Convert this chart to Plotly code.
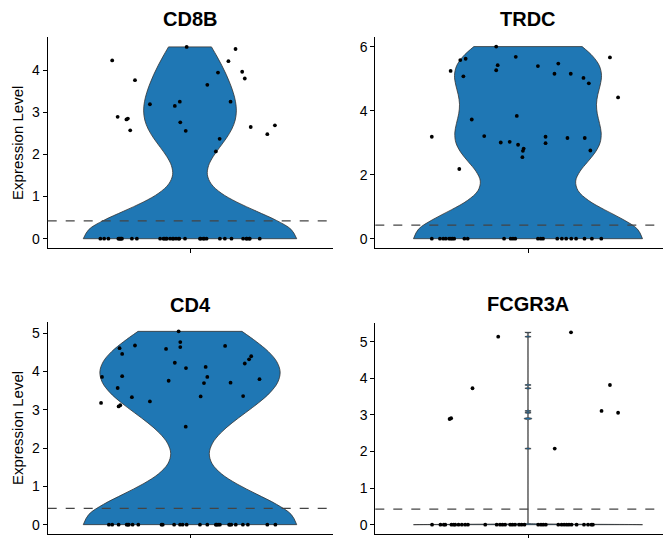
import numpy as np
import plotly.graph_objects as go

genes = ["CD8B", "TRDC", "CD4", "FCGR3A"]
threshold = 0.425

# ---- CD8B ----
cd8b_pos_y = [4.23, 4.55, 4.50, 4.21, 3.94, 3.96, 3.80, 3.76, 3.65, 3.19, 3.15, 3.25,
              3.25, 2.89, 2.83, 2.85, 2.57, 2.76, 2.56, 2.65, 2.69, 2.48, 2.37, 2.07]
cd8b_pos_jit = [-0.328, -0.014, 0.192, 0.162, 0.118, 0.220, 0.231, -0.232, 0.073, -0.169, -0.064, -0.043,
                0.171, -0.305, -0.268, -0.262, -0.252, -0.041, -0.018, 0.256, 0.358, 0.326, 0.125, 0.109]
cd8b_zero_jit = [-0.378, -0.362, -0.344, -0.302, -0.294, -0.287, -0.245, -0.224, -0.126, -0.112,
                 -0.101, -0.084, -0.073, -0.059, -0.045, -0.021, 0.042, 0.056, 0.070, 0.126,
                 0.147, 0.175, 0.224, 0.238, 0.252, 0.294,
                 -0.298, -0.290, -0.108, -0.098, -0.070, -0.048, 0.045, 0.060, 0.240, 0.250]

# ---- TRDC ----
trdc_pos_y = [3.19, 2.18, 5.25, 5.59, 5.63, 5.08, 3.73, 3.21, 6.01, 5.43, 5.27, 5.69, 3.01, 3.03,
              3.84, 2.94, 2.82, 2.75, 2.55, 5.40, 5.48, 5.16, 5.16, 3.19, 2.99, 3.15, 3.15, 5.03,
              4.86, 2.76, 5.67, 4.42]
trdc_pos_jit = [-0.378, -0.270, -0.304, -0.266, -0.245, -0.254, -0.221, -0.172, -0.125, -0.119, -0.125,
                -0.048, -0.107, -0.072, -0.044, -0.039, -0.017, -0.020, -0.022, 0.039, 0.119, 0.104,
                0.168, 0.069, 0.069, 0.155, 0.223, 0.218, 0.239, 0.245, 0.322, 0.354]
trdc_zero_jit = [-0.378, -0.346, -0.333, -0.323, -0.310, -0.303, -0.297, -0.290, -0.250, -0.237,
                 -0.094, -0.068, -0.059, -0.050, 0.039, 0.050, 0.059, 0.115, 0.133, 0.150,
                 0.170, 0.189, 0.222, 0.251, 0.288]

# ---- CD4 ----
cd4_pos_y = [3.18, 3.86, 3.57, 3.09, 3.12, 4.61, 4.46, 3.88, 3.33, 4.68, 3.22, 4.59, 3.76, 4.23,
             5.05, 4.77, 4.64, 4.09, 2.56, 3.35, 3.70, 4.12, 3.86, 4.67, 3.71, 3.36, 4.21, 4.32,
             4.40, 3.80]
cd4_pos_jit = [-0.375, -0.371, -0.305, -0.301, -0.294, -0.297, -0.286, -0.286, -0.245, -0.232, -0.169,
               -0.101, -0.090, -0.064, -0.048, -0.041, -0.041, -0.017, -0.018, 0.045, 0.059, 0.066,
               0.073, 0.148, 0.171, 0.224, 0.231, 0.249, 0.258, 0.293]
cd4_zero_jit = [-0.342, -0.328, -0.301, -0.267, -0.258, -0.242, -0.218, -0.120, -0.115, -0.067,
                -0.042, -0.031, -0.014, 0.042, 0.073, 0.109, 0.119, 0.126, 0.165, 0.174,
                0.193, 0.223, 0.244, 0.326, 0.360,
                -0.262, 0.112, 0.168]

# ---- FCGR3A ----
fcgr_pos_y = [2.89, 2.91, 3.73, 5.14, 2.08, 5.26, 3.11, 3.82, 3.06]
fcgr_pos_jit = [-0.308, -0.302, -0.218, -0.117, 0.105, 0.169, 0.289, 0.322, 0.354]
fcgr_zero_jit = [-0.377, -0.344, -0.331, -0.325, -0.301, -0.292, -0.286, -0.273, -0.260, -0.247,
                 -0.236, -0.168, -0.123, -0.110, -0.100, -0.090, -0.070, -0.061, -0.051, -0.035,
                 -0.025, -0.014, 0.040, 0.051, 0.060, 0.070, 0.119, 0.132, 0.142, 0.152,
                 0.161, 0.171, 0.191, 0.220, 0.236, 0.249, 0.255]

panels = [
    (cd8b_pos_y, cd8b_pos_jit, cd8b_zero_jit),
    (trdc_pos_y, trdc_pos_jit, trdc_zero_jit),
    (cd4_pos_y, cd4_pos_jit, cd4_zero_jit),
    (fcgr_pos_y, fcgr_pos_jit, fcgr_zero_jit),
]
ytick_step = [1, 2, 1, 1]


def nrd0(v):
    v = np.asarray(v, dtype=float)
    sd = v.std(ddof=1)
    q75, q25 = np.percentile(v, [75, 25])
    lo = min(sd, (q75 - q25) / 1.34)
    if lo <= 0:
        return 0.01
    return 0.9 * lo * len(v) ** -0.2


# the page body adds an 8px margin, so the figure is drawn 8px in from the window edge
OFF = 8
WIN_W, WIN_H = 671, 538
W, H = WIN_W - OFF, WIN_H - OFF
# panel pixel boxes in window coordinates: (left, right, top, bottom)
boxes = [
    (47.7, 333.3, 37.3, 248.3),
    (375.3, 671.0, 37.0, 248.3),
    (47.7, 333.3, 321.7, 534.3),
    (375.3, 671.0, 322.7, 534.3),
]
centers = [190.0, 528.0, 190.0, 528.0]
title_y = [19.0, 19.0, 304.7, 303.8]

fig = go.Figure()
layout = dict(
    width=W, height=H,
    margin=dict(l=0, r=0, t=0, b=0),
    paper_bgcolor="white", plot_bgcolor="white",
    showlegend=False,
    font=dict(family="Liberation Sans, Arial, sans-serif", color="black"),
    annotations=[], shapes=[],
)

for i, (pos_y, pos_jit, zero_jit) in enumerate(panels):
    k = "" if i == 0 else str(i + 1)
    xa, ya = "x" + k, "y" + k
    vals = list(pos_y) + [0.0] * len(zero_jit)
    jit = list(pos_jit) + list(zero_jit)
    bw = nrd0(vals)
    fig.add_trace(go.Violin(
        x0=0, y=vals, xaxis=xa, yaxis=ya, width=0.9,
        spanmode="hard", scalemode="width", bandwidth=bw,
        points=False, box_visible=False, meanline_visible=False,
        fillcolor="#1f77b4", line=dict(color="#333333", width=0.8),
        opacity=1, hoverinfo="skip",
    ))
    fig.add_trace(go.Scatter(
        x=jit, y=vals, xaxis=xa, yaxis=ya, mode="markers",
        marker=dict(color="black", size=3.8), hoverinfo="skip",
    ))
    l, r, t, b = [v - OFF for v in boxes[i]]
    c = centers[i] - OFF
    full_half = 0.6
    px_per_unit = (c - l) / full_half
    xmax = (r - c) / px_per_unit
    ymin, ymax = min(vals), max(vals)
    pad = 0.05 * (ymax - ymin)
    axis_common = dict(showgrid=False, zeroline=False, showline=True, linecolor="black",
                       linewidth=1, ticks="outside", ticklen=4, tickwidth=1, tickcolor="black",
                       tickfont=dict(size=14, color="black"))
    layout["xaxis" + k] = dict(domain=[l / W, min(r / W, 1.0)], range=[-full_half, xmax], anchor=ya,
                               tickvals=[0], ticktext=[""], type="linear", **axis_common)
    ydict = dict(domain=[1 - b / H, 1 - t / H], range=[ymin - pad, ymax + pad], anchor=xa,
                 dtick=ytick_step[i], tick0=0, **axis_common)
    if i in (0, 2):
        ydict["title"] = dict(text="Expression Level", font=dict(size=15, color="black"), standoff=4)
    layout["yaxis" + k] = ydict
    layout["shapes"].append(dict(type="line", xref=xa + " domain", yref=ya, x0=0, x1=1,
                                 y0=threshold, y1=threshold,
                                 line=dict(color="#444444", width=1.3, dash="dash")))
    layout["annotations"].append(dict(text="<b>%s</b>" % genes[i], xref=xa, x=0, yref="paper",
                                      y=1 - (title_y[i] - OFF) / H, yanchor="middle", xanchor="center",
                                      showarrow=False, font=dict(size=20, color="black")))

fig.update_layout(**layout)
fig.write_html("out.html")
